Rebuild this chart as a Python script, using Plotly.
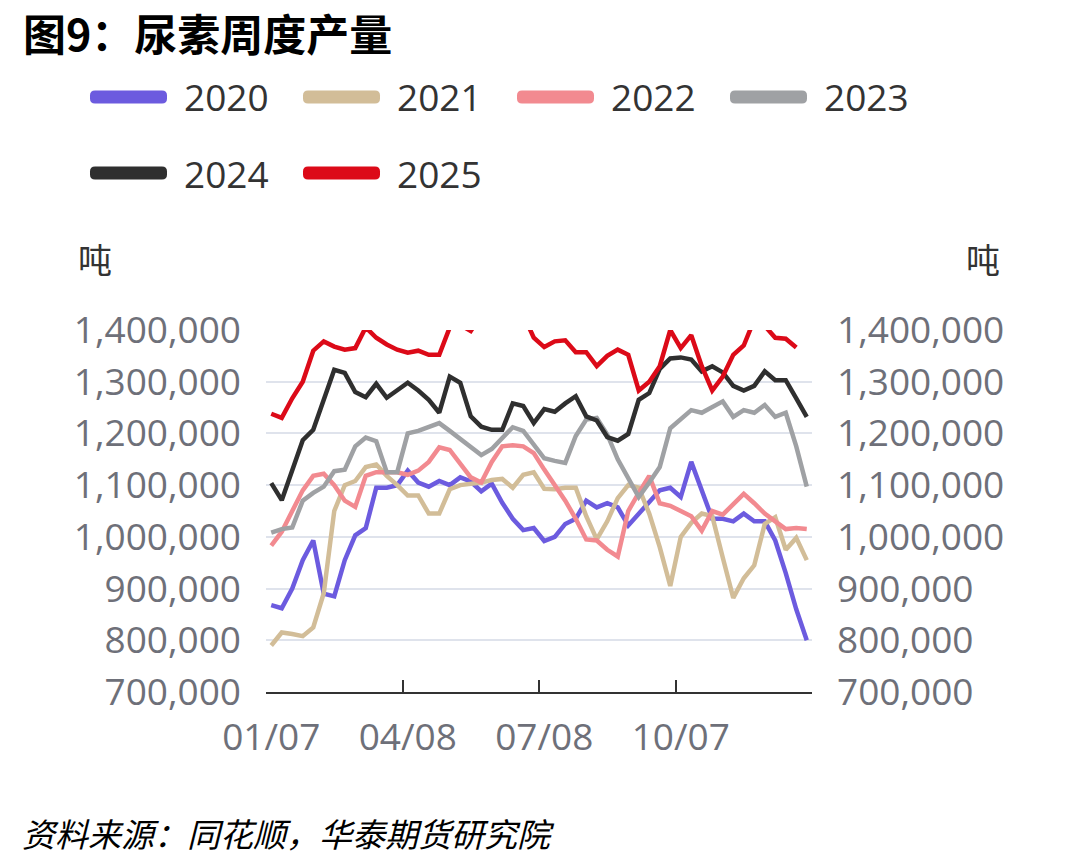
import plotly.graph_objects as go

# ---------------- data ----------------
weeks = ["01/07", "01/14", "01/21", "01/28", "02/04", "02/11", "02/18", "02/25", "03/04", "03/11",
         "03/18", "03/25", "04/01", "04/08", "04/15", "04/22", "04/29", "05/06", "05/13", "05/20",
         "05/27", "06/03", "06/10", "06/17", "06/24", "07/01", "07/08", "07/15", "07/22", "07/29",
         "08/05", "08/12", "08/19", "08/26", "09/02", "09/09", "09/16", "09/23", "09/30", "10/07",
         "10/14", "10/21", "10/28", "11/04", "11/11", "11/18", "11/25", "12/02", "12/09", "12/16",
         "12/23", "12/30"]
tick_labels = ["01/07", "04/08", "07/08", "10/07"]

y2020 = [868000, 862000, 900000, 955000, 993000, 890000, 885000, 955000, 1003000, 1017000,
         1095000, 1095000, 1100000, 1128000, 1105000, 1097000, 1108000, 1100000, 1115000, 1107000,
         1088000, 1103000, 1066000, 1035000, 1013000, 1017000, 992000, 1000000, 1025000, 1035000,
         1070000, 1057000, 1065000, 1057000, 1022000, 1045000, 1070000, 1090000, 1095000, 1077000,
         1145000, 1090000, 1035000, 1035000, 1030000, 1045000, 1030000, 1030000, 993000, 930000,
         860000, 800000]
y2021 = [790000, 815000, 812000, 808000, 825000, 891000, 1050000, 1100000, 1108000, 1135000,
         1140000, 1118000, 1100000, 1080000, 1080000, 1045000, 1045000, 1092000, 1100000, 1102000,
         1105000, 1110000, 1112000, 1095000, 1120000, 1125000, 1093000, 1092000, 1095000, 1095000,
         1040000, 995000, 1030000, 1075000, 1100000, 1095000, 1045000, 980000, 905000, 1000000,
         1027000, 1045000, 1040000, 960000, 882000, 920000, 945000, 1025000, 1038000, 975000,
         998000, 955000]
y2022 = [983000, 1010000, 1050000, 1090000, 1118000, 1122000, 1100000, 1070000, 1058000, 1118000,
         1125000, 1125000, 1125000, 1120000, 1128000, 1145000, 1173000, 1168000, 1140000, 1115000,
         1105000, 1145000, 1175000, 1177000, 1175000, 1162000, 1130000, 1100000, 1070000, 1035000,
         995000, 993000, 975000, 962000, 1050000, 1085000, 1118000, 1065000, 1060000, 1050000,
         1040000, 1012000, 1050000, 1043000, 1063000, 1083000, 1065000, 1045000, 1030000, 1015000,
         1017000, 1015000]
y2023 = [1008000, 1015000, 1018000, 1070000, 1085000, 1097000, 1127000, 1130000, 1175000, 1192000,
         1185000, 1125000, 1125000, 1200000, 1205000, 1212000, 1220000, 1205000, 1190000, 1175000,
         1158000, 1170000, 1190000, 1212000, 1205000, 1180000, 1152000, 1147000, 1143000, 1195000,
         1227000, 1230000, 1198000, 1150000, 1115000, 1077000, 1105000, 1135000, 1210000, 1228000,
         1245000, 1240000, 1250000, 1262000, 1232000, 1245000, 1240000, 1255000, 1232000, 1240000,
         1175000, 1097000]
y2024 = [1104000, 1071000, 1129000, 1187000, 1207000, 1265000, 1323000, 1317000, 1280000, 1270000,
         1296000, 1269000, 1284000, 1298000, 1283000, 1265000, 1240000, 1310000, 1298000, 1233000,
         1213000, 1207000, 1207000, 1258000, 1253000, 1220000, 1247000, 1242000, 1258000, 1272000,
         1233000, 1225000, 1193000, 1186000, 1199000, 1265000, 1278000, 1325000, 1345000, 1347000,
         1343000, 1320000, 1330000, 1318000, 1292000, 1283000, 1292000, 1320000, 1303000, 1303000,
         1268000, 1232000]
y2025 = [1238000, 1230000, 1268000, 1300000, 1360000, 1378000, 1368000, 1362000, 1365000, 1405000,
         1385000, 1372000, 1362000, 1356000, 1360000, 1352000, 1352000, 1405000, 1410000, 1398000,
         1430000, 1450000, 1460000, 1450000, 1430000, 1385000, 1367000, 1378000, 1380000, 1357000,
         1357000, 1330000, 1350000, 1362000, 1352000, 1283000, 1300000, 1330000, 1400000, 1365000,
         1390000, 1330000, 1283000, 1310000, 1352000, 1370000, 1420000, 1408000, 1385000, 1383000,
         1366000]

series_names = ["2020", "2021", "2022", "2023", "2024", "2025"]
series_values = [y2020, y2021, y2022, y2023, y2024, y2025]
series_colors = ["#6c5bdf", "#d2bd98", "#f28a90", "#9fa1a4", "#2f2f2f", "#dc0a18"]

y_ticks = [700000, 800000, 900000, 1000000, 1100000, 1200000, 1300000, 1400000]

# ---------------- layout geometry (pixels) ----------------
W, H = 1078, 866
L, R, T, B = 266, 812, 330, 692
FONT = "Open Sans, Noto Sans CJK SC, sans-serif"
CJK = "Noto Sans CJK SC, sans-serif"


def X(px):
    return (px - L) / (R - L)


def Y(py):
    return (B - py) / (B - T)


fig = go.Figure()
for name, vals, col in zip(series_names, series_values, series_colors):
    fig.add_trace(go.Scatter(
        x=weeks[:len(vals)], y=vals, name=name, mode="lines",
        line=dict(color=col, width=4.5), showlegend=False,
        xaxis="x", yaxis="y2" if name == "2025" else "y",
    ))

n = len(weeks)
bounds = [i - 0.5 for i in range(0, n + 1, 13)]

# empty helper trace so the boundary-tick axis is drawn (no visible marks)
fig.add_trace(go.Scatter(x=bounds, y=[None] * len(bounds), mode="lines",
                         xaxis="x2", yaxis="y", showlegend=False, hoverinfo="skip"))

yaxis_common = dict(
    range=[y_ticks[0], y_ticks[-1]], tickmode="array", tickvals=y_ticks,
    tickformat=",", tickfont=dict(family=FONT, size=37, color="#6e7079"),
    zeroline=False, showline=False, ticks="", ticklabelstandoff=24,
)

fig.update_layout(
    width=W, height=H,
    margin=dict(l=L, r=W - R, t=T, b=H - B, pad=0),
    paper_bgcolor="white", plot_bgcolor="white",
    xaxis=dict(
        type="category", categoryorder="array", categoryarray=weeks,
        range=[-0.5, n - 0.5], tickmode="array", tickvals=tick_labels,
        ticks="", showgrid=False, zeroline=False,
        showline=True, linecolor="#333333", linewidth=2,
        tickfont=dict(family=FONT, size=37, color="#6e7079"),
        ticklabelstandoff=12,
    ),
    xaxis2=dict(
        overlaying="x", anchor="y", side="bottom", range=[-0.5, n - 0.5],
        tickmode="array", tickvals=bounds, ticks="inside", ticklen=12,
        tickwidth=2, tickcolor="#333333", showticklabels=False,
        showgrid=False, zeroline=False, showline=False,
    ),
    yaxis=dict(**yaxis_common, showgrid=True, gridcolor="#dfe3ec", gridwidth=2),
    yaxis2=dict(**yaxis_common, overlaying="y", side="right", showgrid=False),
)

# ---------------- manual legend ----------------
legend_pos = [(90, 97), (303, 97), (517, 97), (730, 97), (90, 173), (303, 173)]
shapes = []
annos = []
for (x0, yc), name, col in zip(legend_pos, series_names, series_colors):
    x1 = x0 + 77
    yt, yb = yc - 6.5, yc + 6.5
    r = 5
    path = (f"M {X(x0 + r)},{Y(yt)} L {X(x1 - r)},{Y(yt)} Q {X(x1)},{Y(yt)} {X(x1)},{Y(yt + r)} "
            f"L {X(x1)},{Y(yb - r)} Q {X(x1)},{Y(yb)} {X(x1 - r)},{Y(yb)} "
            f"L {X(x0 + r)},{Y(yb)} Q {X(x0)},{Y(yb)} {X(x0)},{Y(yb - r)} "
            f"L {X(x0)},{Y(yt + r)} Q {X(x0)},{Y(yt)} {X(x0 + r)},{Y(yt)} Z")
    shapes.append(dict(type="path", xref="paper", yref="paper", path=path,
                       fillcolor=col, line=dict(width=0)))
    annos.append(dict(x=X(x0 + 92), y=Y(yc), xref="paper", yref="paper", text=name,
                      showarrow=False, xanchor="left", yanchor="middle",
                      font=dict(family=FONT, size=37, color="#333333")))

# title, units, source
annos.append(dict(x=X(22), y=Y(0), xref="paper", yref="paper",
                  text="<b>图9：尿素周度产量</b>", showarrow=False,
                  xanchor="left", yanchor="top", borderpad=0,
                  font=dict(family=CJK, size=43, color="#000000")))
annos.append(dict(x=X(76), y=Y(258), xref="paper", yref="paper", text="吨",
                  showarrow=False, xanchor="left", yanchor="middle",
                  font=dict(family=CJK, size=34, color="#333333")))
annos.append(dict(x=X(1002), y=Y(258), xref="paper", yref="paper", text="吨",
                  showarrow=False, xanchor="right", yanchor="middle",
                  font=dict(family=CJK, size=34, color="#333333")))
annos.append(dict(x=X(20), y=Y(833), xref="paper", yref="paper",
                  text="<i>资料来源：同花顺，华泰期货研究院</i>", showarrow=False,
                  xanchor="left", yanchor="middle",
                  font=dict(family=CJK, size=33, color="#000000")))

fig.update_layout(shapes=shapes, annotations=annos)
fig.write_html("out.html")
